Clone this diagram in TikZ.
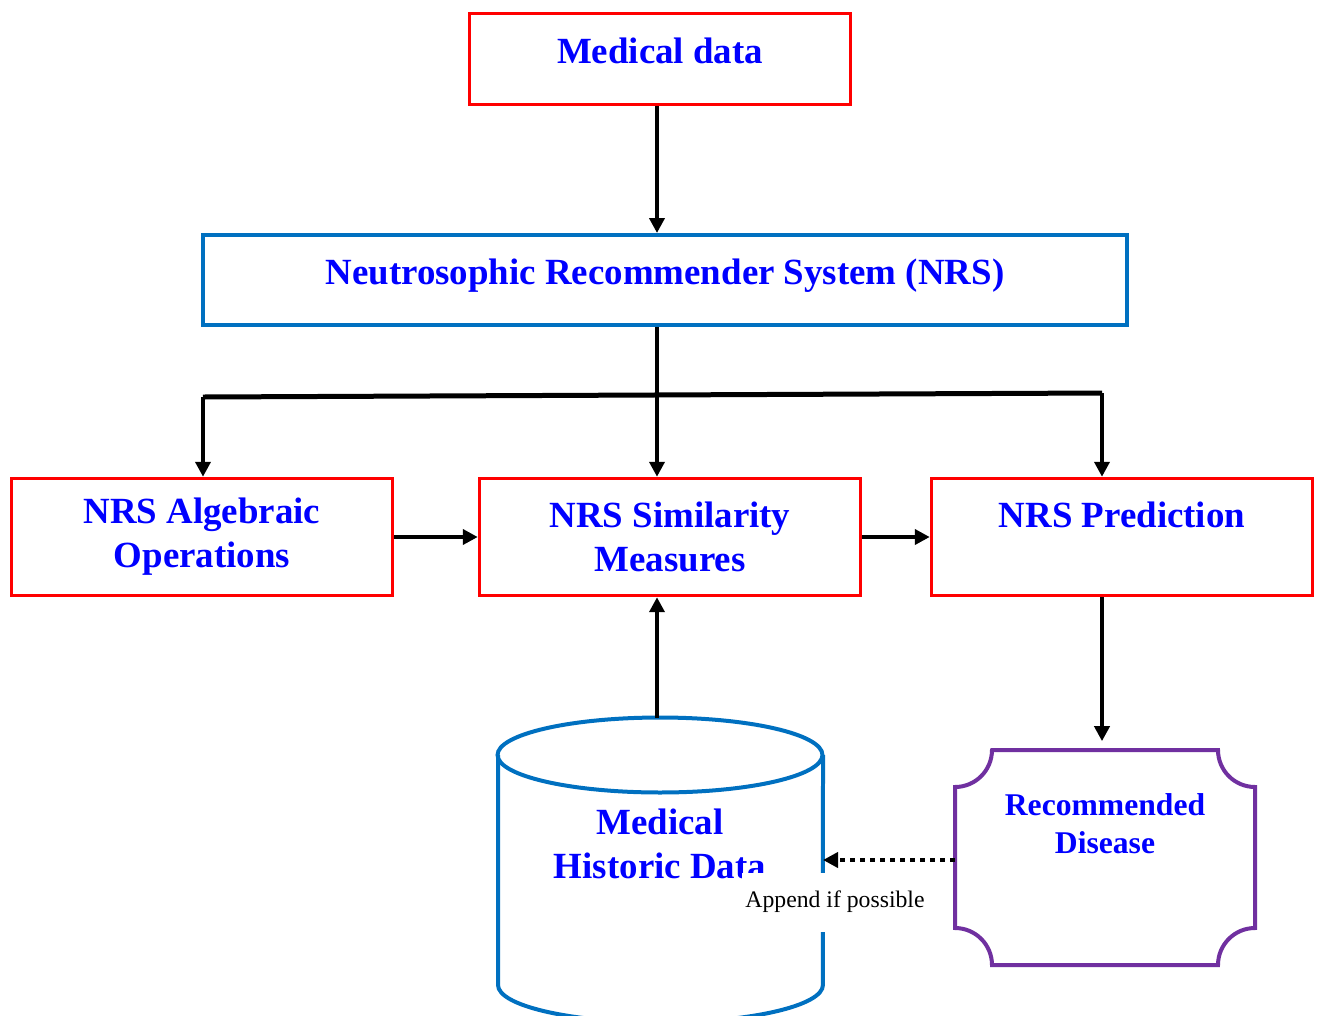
\documentclass[tikz,border=0pt]{standalone}
\usepackage{fontspec}
\setmainfont{Liberation Serif}
\usetikzlibrary{arrows.meta}

\definecolor{azulcaja}{RGB}{0,112,192}
\definecolor{morado}{RGB}{112,48,160}

\tikzstyle{modulo}= [rectangle,draw=red,line width=0.07cm,minimum width=7.62cm,minimum height=2.34cm,align=center,text=blue,font=\bfseries\fontsize{21}{25}\selectfont]
\tikzstyle{sistema}= [rectangle,draw=azulcaja,line width=0.08cm,minimum width=18.48cm,minimum height=1.8cm,text=blue,font=\bfseries\fontsize{21}{25}\selectfont]
\tikzstyle{flecha}= [black,line width=0.09cm,-{Triangle[length=0.3cm,width=0.3cm]}]
\tikzstyle{punteada}= [black,line width=0.09cm,dash pattern=on 0.1cm off 0.1cm,-{Triangle[length=0.3cm,width=0.3cm]}]

\begin{document}
\begin{tikzpicture}[x=0.02cm,y=-0.02cm]
		\useasboundingbox (0,0) rectangle (1319,1015);

		\node (med) at (660,59) [modulo,minimum height=1.82cm,text depth=10pt] {Medical data};
		\node (nrs) at (665,280) [sistema,text depth=10pt] {Neutrosophic Recommender System (NRS)};

		\node (alg) at (202,537) [modulo] {NRS Algebraic\\Operations};
		\node (sim) at (670,537) [modulo] {NRS Similarity\\Measures};
		\node (pred) at (1122,537) [modulo] {NRS Prediction\\~};

		% base de datos
		\draw[azulcaja,line width=0.08cm] (660,755) ellipse [x radius=3.25cm,y radius=0.75cm];
		\draw[azulcaja,line width=0.08cm] (498,755) -- (498,985) arc[start angle=180,end angle=360,x radius=3.25cm,y radius=0.75cm] -- (823,755);
		\node (db) at (660,844) [align=center,text=blue,font=\bfseries\fontsize{21}{25}\selectfont] {Medical\\Historic Data};
		\coordinate (dbtop) at (657,718);
		\coordinate (dbder) at (823,860);

		% recomendacion
		\node (rec) at (1105,857) [minimum width=6cm,minimum height=4.3cm] {};
		\draw[morado,line width=0.08cm] (992,750) -- (1218,750) arc[start angle=180,end angle=270,radius=0.74cm]
			-- (1255,928) arc[start angle=90,end angle=180,radius=0.74cm]
			-- (992,965) arc[start angle=0,end angle=90,radius=0.74cm]
			-- (955,787) arc[start angle=-90,end angle=0,radius=0.74cm] -- cycle;
		\node (rectxt) at (1105,824) [align=center,text=blue,font=\bfseries\fontsize{18}{21.6}\selectfont] {Recommended\\Disease};

		\coordinate (ramaizq) at (203,397);
		\coordinate (ramader) at (1102,393);

		\path[flecha] (med.south -| dbtop) edge[] (nrs.north -| dbtop);
		\path[flecha] (nrs.south -| dbtop) edge[] (sim.north -| dbtop);
		\draw[black,line width=0.1cm] (ramaizq) -- (ramader);
		\path[flecha] (ramaizq) edge[] (ramaizq |- alg.north);
		\path[flecha] (ramader) edge[] (ramader |- pred.north);

		\path[flecha] (alg.east) edge[] (sim.west);
		\path[flecha] (sim.east) edge[] (pred.west);
		\path[flecha] (dbtop) edge[] (sim.south -| dbtop);
		\path[flecha] (pred.south -| ramader) edge[shorten >=0.16cm] (rec.north -| ramader);

		\path[punteada] (rec.west |- dbder) edge[] (dbder);
		\node (append) at (835,902) [fill=white,minimum height=1.18cm,inner xsep=2pt,font=\fontsize{13.5}{16}\selectfont] {Append if possible};

\end{tikzpicture}
\end{document}
